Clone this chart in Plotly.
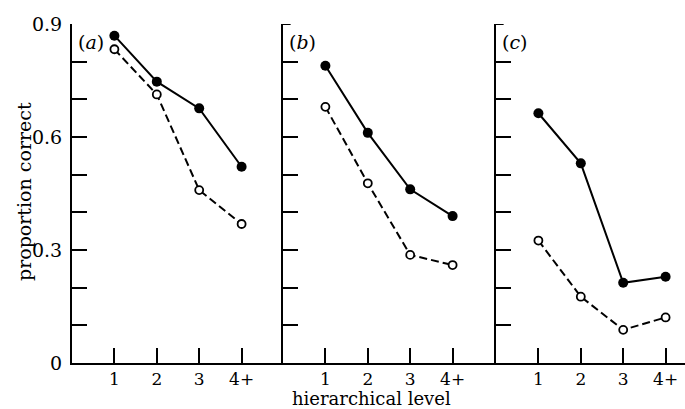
import plotly.graph_objects as go

levels = [1, 2, 3, 4]
level_labels = ["1", "2", "3", "4+"]
panels = ["(<i>a</i>)", "(<i>b</i>)", "(<i>c</i>)"]

filled_a = [0.869, 0.747, 0.676, 0.521]
open_a = [0.833, 0.713, 0.459, 0.369]
filled_b = [0.789, 0.611, 0.461, 0.390]
open_b = [0.680, 0.477, 0.287, 0.260]
filled_c = [0.663, 0.530, 0.213, 0.229]
open_c = [0.325, 0.176, 0.088, 0.121]

y_tickvals = [0, 0.1, 0.2, 0.3, 0.4, 0.5, 0.6, 0.7, 0.8, 0.9]
y_ticktext = ["0", "", "", "0.3", "", "", "0.6", "", "", "0.9"]

W, H = 685, 409
FONT = "DejaVu Serif"
FS = 19
unit = 42.4
edges = [72, 283, 496, 685]

fig = go.Figure()
series = [(filled_a, open_a), (filled_b, open_b), (filled_c, open_c)]
for i, (f, o) in enumerate(series):
    xa = "x" if i == 0 else f"x{i+1}"
    ya = "y" if i == 0 else f"y{i+1}"
    fig.add_trace(go.Scatter(x=levels, y=o, xaxis=xa, yaxis=ya, mode="lines+markers",
                             line=dict(color="black", width=2, dash="8px,4px"),
                             marker=dict(symbol="circle", size=8, color="white",
                                         line=dict(color="black", width=1.8)),
                             cliponaxis=False, showlegend=False))
    fig.add_trace(go.Scatter(x=levels, y=f, xaxis=xa, yaxis=ya, mode="lines+markers",
                             line=dict(color="black", width=2),
                             marker=dict(symbol="circle", size=10, color="black"),
                             cliponaxis=False, showlegend=False))

layout = dict(width=W, height=H, margin=dict(l=0, r=0, t=24, b=46),
              paper_bgcolor="white", plot_bgcolor="white",
              font=dict(family=FONT, size=FS, color="black"))
for i in range(3):
    x0, x1 = edges[i], edges[i + 1]
    xk = "xaxis" if i == 0 else f"xaxis{i+1}"
    yk = "yaxis" if i == 0 else f"yaxis{i+1}"
    xa = "x" if i == 0 else f"x{i+1}"
    ya = "y" if i == 0 else f"y{i+1}"
    layout[xk] = dict(domain=[x0 / W, x1 / W], range=[0, (x1 - x0) / unit], anchor=ya,
                      tickmode="array", tickvals=levels, ticktext=level_labels,
                      ticks="inside", ticklen=15, tickwidth=2, tickcolor="black",
                      showline=True, linewidth=2, linecolor="black",
                      showgrid=False, zeroline=False, ticklabelstandoff=0,
                      tickfont=dict(family=FONT, size=17))
    if i == 0:
        tv, tt = y_tickvals, y_ticktext
    else:
        tv, tt = y_tickvals[1:-1], [""] * (len(y_tickvals) - 2)
    layout[yk] = dict(domain=[0, 1], range=[0, 0.9], anchor=xa,
                      tickmode="array", tickvals=tv, ticktext=tt,
                      ticks="inside", ticklen=15, tickwidth=2, tickcolor="black",
                      showline=True, linewidth=2, linecolor="black",
                      showgrid=False, zeroline=False, showticklabels=(i == 0),
                      ticklabelstandoff=4, tickfont=dict(family=FONT, size=FS))
fig.update_layout(**layout)

shapes = []
for i in (1, 2):
    xa = f"x{i+1}"
    ya = f"y{i+1}"
    shapes.append(dict(type="line", xref=xa, yref=ya, x0=0, x1=0.18, y0=0.9, y1=0.9,
                       line=dict(color="black", width=2)))
fig.update_layout(shapes=shapes)

ph = H - 70
anns = []
for i, p in enumerate(panels):
    anns.append(dict(text=p, x=(edges[i] + 4) / W, y=1 - (42 - 24) / ph,
                     xref="paper", yref="paper", xanchor="left", yanchor="middle",
                     showarrow=False, font=dict(family=FONT, size=FS)))
anns.append(dict(text="proportion correct", textangle=-90, x=24 / W, xref="paper",
                 y=(H - 46 - 192) / ph, yref="paper", showarrow=False,
                 xanchor="center", yanchor="middle", font=dict(family=FONT, size=FS)))
anns.append(dict(text="hierarchical level", x=371 / W, xref="paper",
                 y=-(398.5 - (H - 46)) / ph, yref="paper", showarrow=False,
                 xanchor="center", yanchor="middle", font=dict(family=FONT, size=18)))
fig.update_layout(annotations=anns)

fig.write_html("out.html")
